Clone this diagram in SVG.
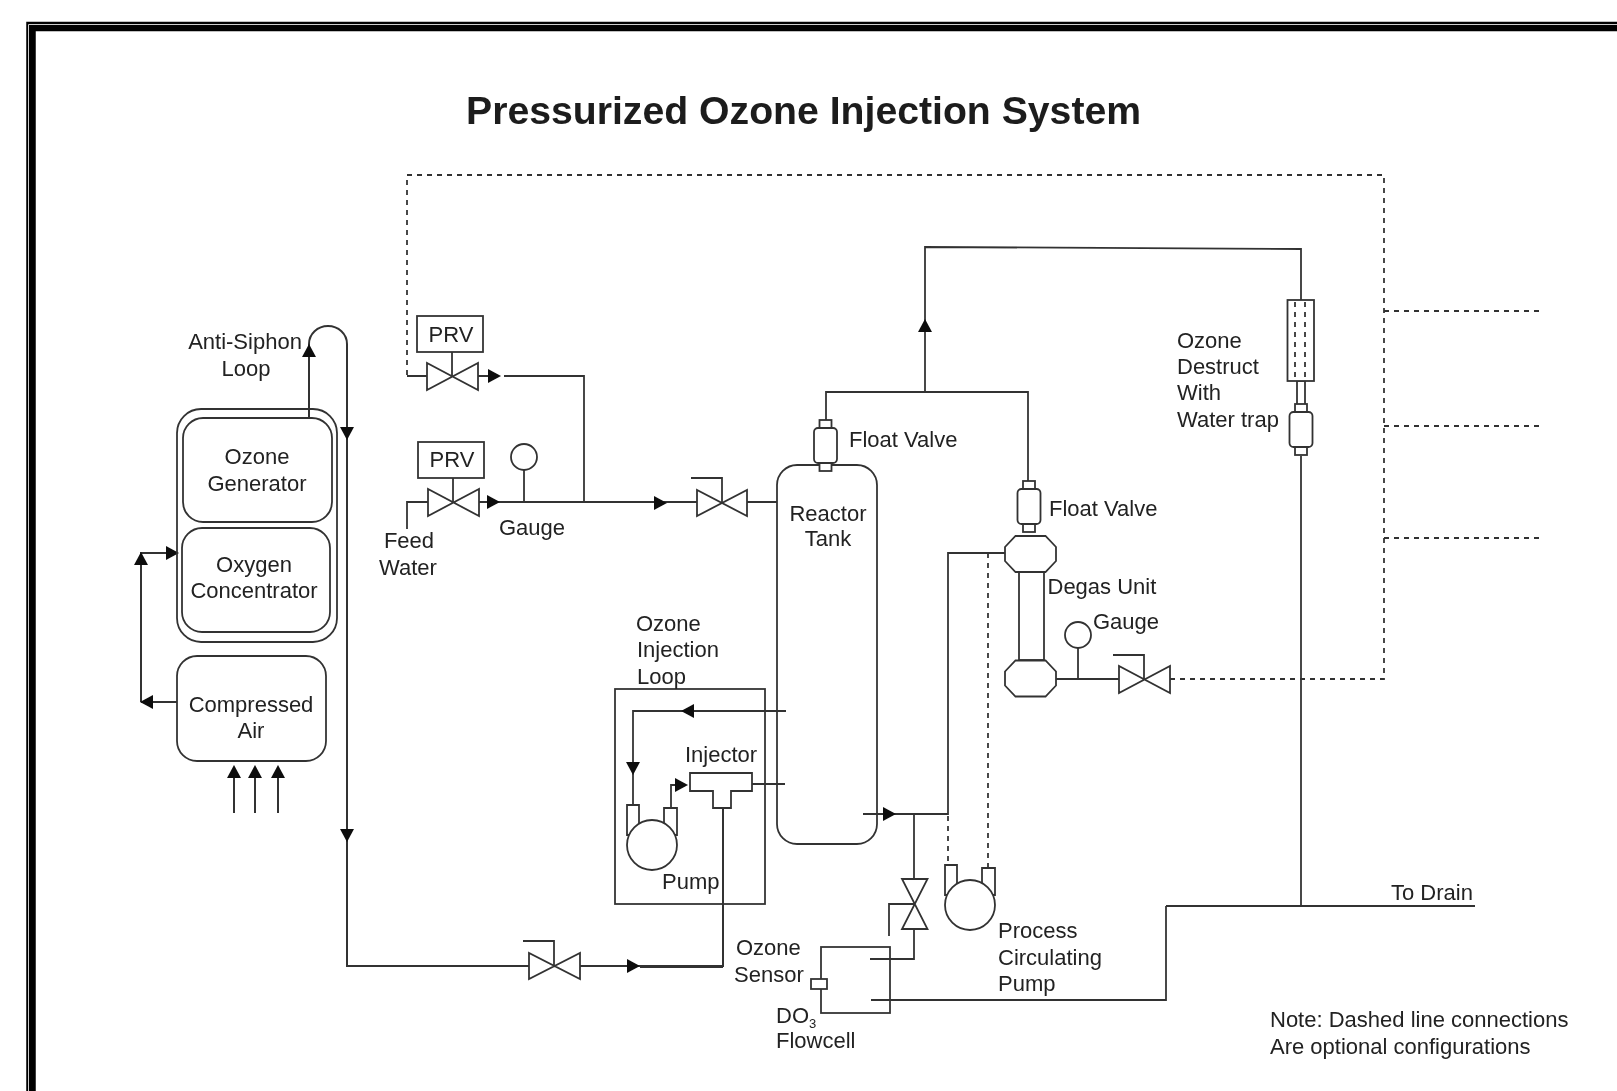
<svg xmlns="http://www.w3.org/2000/svg" width="1617" height="1091" viewBox="0 0 1617 1091">
<style>
text{font-family:"Liberation Sans",Arial,sans-serif;font-size:22px;fill:#222}
.c{text-anchor:middle}
.t{font-weight:bold;font-size:39.2px;fill:#1c1c1c}
.s{fill:#fff;stroke:#333;stroke-width:1.8}
.n{fill:none;stroke:#333;stroke-width:1.8}
.l{fill:none;stroke:#333;stroke-width:2}
.d{fill:none;stroke:#333;stroke-width:1.8;stroke-dasharray:5 5}
.a{fill:#111;stroke:none}
</style>
<defs>
<filter id="soft" x="-2%" y="-2%" width="104%" height="104%"><feGaussianBlur stdDeviation="0.45"/></filter>
<polygon id="ar" class="a" points="7,0 -6,-7 -6,7"/>
<g id="fv"><rect class="s" x="-6" y="-9" width="12" height="9"/><rect class="s" x="-6" y="33" width="12" height="9"/><rect class="s" x="-11.500" y="-1" width="23" height="35" rx="4"/></g>
<g id="pu"><path class="s" d="M-25,-40H-13V-10H-25ZM12,-37H25V-10H12Z"/><circle class="s" cx="0" cy="0" r="25"/></g>
<path id="oc" class="s" d="M-15,-18H15L25.500,-7V7L15,18H-15L-25.500,7V-7Z"/>
</defs>
<rect width="1617" height="1091" fill="#fff"/>
<g filter="url(#soft)">
<path d="M31,1091V26.500H1617" fill="none" stroke="#000" stroke-width="9.500"/>
<path d="M28.500,1091V24.500H1617" fill="none" stroke="#ccc" stroke-width="1"/>
<text class="t" x="466" y="124">Pressurized Ozone Injection System</text>

<g id="connectors">
<path class="l" d="M309,418V344A19,18 0 0 1 347,344V966H529"/>
<path class="l" d="M580,966H723V808"/>
<path class="l" stroke-width="3" d="M640,967H723"/>
<path class="l" d="M141,702V553H170M177,702H141"/>
<path class="l" d="M234,778V813M255,778V813M278,778V813"/>
<path class="d" d="M1170,679H1384V175H407V376"/>
<path class="d" d="M1384,311H1541M1384,426H1541M1384,538H1541"/>
<path class="n" d="M407,376H427M478,376H490M504,376H584V502"/>
<path class="n" d="M407,529V502H428M479,502H697M747,502H777"/>
<path class="n" d="M826,420V392H1028V482M925,392V247L1301,249V300"/>
<path class="n" d="M1301,456V906M1166,906H1475M1166,906V1000H871"/>
<path class="n" d="M786,711H633V805M671,808V785H680M752,784H785"/>
<path class="n" d="M863,814H948V553H1005"/>
<path class="d" d="M948,816V862M988,553V867"/>
<path class="n" d="M914,814V879M914,929V959H870M914,904H889V936"/>
<path class="n" d="M1056,679H1119"/>
<use href="#ar" transform="translate(309,344) rotate(-90) translate(-7,0)"/>
<use href="#ar" transform="translate(347,440) rotate(90)  translate(-7,0)"/>
<use href="#ar" transform="translate(347,842) rotate(90)  translate(-7,0)"/>
<use href="#ar" transform="translate(141,552) rotate(-90) translate(-7,0)"/>
<use href="#ar" transform="translate(179,553) translate(-7,0)"/>
<use href="#ar" transform="translate(140,702) rotate(180) translate(-7,0)"/>
<use href="#ar" transform="translate(234,765) rotate(-90) translate(-7,0)"/>
<use href="#ar" transform="translate(255,765) rotate(-90) translate(-7,0)"/>
<use href="#ar" transform="translate(278,765) rotate(-90) translate(-7,0)"/>
<use href="#ar" transform="translate(501,376) translate(-7,0)"/>
<use href="#ar" transform="translate(500,502) translate(-7,0)"/>
<use href="#ar" transform="translate(667,503) translate(-7,0)"/>
<use href="#ar" transform="translate(925,319) rotate(-90) translate(-7,0)"/>
<use href="#ar" transform="translate(681,711) rotate(180) translate(-7,0)"/>
<use href="#ar" transform="translate(633,775) rotate(90) translate(-7,0)"/>
<use href="#ar" transform="translate(688,785) translate(-7,0)"/>
<use href="#ar" transform="translate(896,814) translate(-7,0)"/>
<use href="#ar" transform="translate(640,966) translate(-7,0)"/>
</g>

<g id="ozone-oxygen-housing"><rect class="n" x="177" y="409" width="160" height="233" rx="24"/></g>
<g id="ozone-generator"><rect class="s" x="183" y="418" width="149" height="104" rx="20"/><text class="c" x="257" y="464">Ozone</text><text class="c" x="257" y="491">Generator</text></g>
<g id="oxygen-concentrator"><rect class="s" x="182" y="528" width="148" height="104" rx="20"/><text class="c" x="254" y="572">Oxygen</text><text class="c" x="254" y="598">Concentrator</text></g>
<g id="compressed-air"><rect class="s" x="177" y="656" width="149" height="105" rx="20"/><text class="c" x="251" y="712">Compressed</text><text class="c" x="251" y="738">Air</text></g>
<g id="anti-siphon"><text class="c" x="245" y="349">Anti-Siphon</text><text class="c" x="246" y="376">Loop</text></g>

<g id="prv-1"><path class="n" d="M452,352V376"/><rect class="s" x="417" y="316" width="66" height="36"/><path class="s" d="M427,363V390L478,363V390Z"/><text class="c" x="451" y="342">PRV</text></g>
<g id="prv-2"><path class="n" d="M453,478V502"/><rect class="s" x="418" y="442" width="66" height="36"/><path class="s" d="M428,489V516L479,489V516Z"/><text class="c" x="452" y="467">PRV</text></g>
<g id="feed-water"><text class="c" x="409" y="548">Feed</text><text class="c" x="408" y="575">Water</text></g>
<g id="gauge-1"><path class="n" d="M524,470V502"/><circle class="s" cx="524" cy="457" r="13"/><text class="c" x="532" y="535">Gauge</text></g>
<g id="valve-tank"><path class="n" d="M722,502V478H691"/><path class="s" d="M697,490V516L747,490V516Z"/></g>
<g id="valve-loop"><path class="n" d="M554,966V941H523"/><path class="s" d="M529,953V979L580,953V979Z"/></g>

<g id="reactor-tank"><rect class="n" x="777" y="465" width="100" height="379" rx="20"/><text class="c" x="828" y="521">Reactor</text><text class="c" x="828" y="546">Tank</text></g>
<g id="float-valve-1"><use href="#fv" x="825.500" y="429"/><text x="849" y="447">Float Valve</text></g>
<g id="float-valve-2"><use href="#fv" x="1029" y="490"/><text x="1049" y="516">Float Valve</text></g>
<g id="degas-unit"><rect class="s" x="1019" y="572" width="25" height="88"/><use href="#oc" x="1030.500" y="554"/><use href="#oc" x="1030.500" y="678.500"/><text x="1047.500" y="594">Degas Unit</text></g>
<g id="gauge-2"><path class="n" d="M1078,648V679"/><circle class="s" cx="1078" cy="635" r="13"/><text x="1093" y="629">Gauge</text></g>
<g id="valve-degas"><path class="n" d="M1144,679V655H1113"/><path class="s" d="M1119,666V693L1170,666V693Z"/></g>

<g id="ozone-destruct"><rect class="s" x="1297" y="381" width="8" height="24"/><rect class="s" x="1287.500" y="300" width="26.500" height="81"/><path class="d" d="M1295,302V380M1305,302V380"/><use href="#fv" x="1301" y="413"/>
<text x="1177" y="348">Ozone</text><text x="1177" y="374">Destruct</text><text x="1177" y="400">With</text><text x="1177" y="427">Water trap</text></g>

<g id="injection-loop"><rect class="n" x="615" y="689" width="150" height="215"/><text x="636" y="631">Ozone</text><text x="637" y="657">Injection</text><text x="637" y="684">Loop</text></g>
<g id="injector"><path class="s" d="M690,773H752V791H731V808H713V791H690Z"/><text x="685" y="762">Injector</text></g>
<g id="pump"><use href="#pu" x="652" y="845"/><text x="662" y="889">Pump</text></g>
<g id="process-pump"><use href="#pu" x="970" y="905"/><text x="998" y="938">Process</text><text x="998" y="965">Circulating</text><text x="998" y="991">Pump</text></g>
<g id="valve-sensor"><path class="s" d="M902,879H927.500L902,929H927.500Z"/></g>
<g id="flowcell"><rect class="n" x="821" y="947" width="69" height="66"/><rect class="s" x="811" y="979" width="16" height="10"/>
<text x="736" y="955">Ozone</text><text x="734" y="982">Sensor</text><text x="776" y="1023">DO<tspan font-size="13" dy="5">3</tspan></text><text x="776" y="1048">Flowcell</text></g>
<g id="drain"><text x="1391" y="900">To Drain</text></g>
<g id="note"><text x="1270" y="1027">Note: Dashed line connections</text><text x="1270" y="1054">Are optional configurations</text></g>
</g>
</svg>
